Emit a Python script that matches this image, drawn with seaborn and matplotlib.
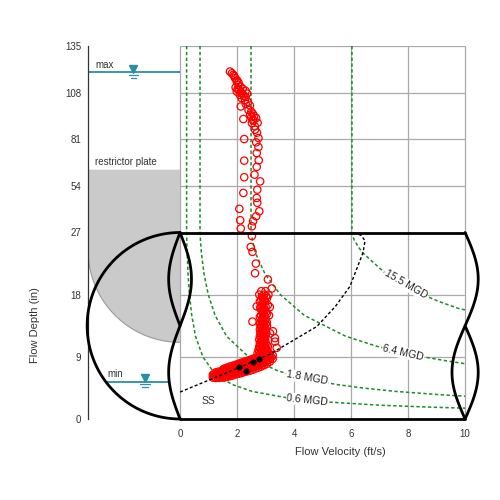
"""Flow depth vs. velocity scattergraph drawn over a pipe schematic."""
import numpy as np
import matplotlib
matplotlib.use("Agg")
import matplotlib.pyplot as plt
import pandas as pd
import seaborn as sns

# ---------------- data ----------------
pipe_diameter = 27.0          # in, also the break of the depth axis
depth_max = 135.0
plate_top = 63.4              # restrictor plate top (in)
plate_center = 24.5
plate_radius = 13.4
max_level = 120.0
min_level = 5.4

x_ticks = [0, 2, 4, 6, 8, 10]
y_major = [0, 9, 18, 27, 54, 81, 108, 135]
y_minor = [36, 45, 63, 72, 90, 99, 117, 126]

# iso-flow lines (velocity ft/s at each depth in)
flow_labels = ["0.6 MGD", "1.8 MGD", "6.4 MGD", "15.5 MGD"]
q06_depth = [135, 27, 25, 24, 21, 18, 15, 12, 9, 7, 6, 5, 4, 3, 2.5, 2, 1.7, 1.57]
q06_vel = [0.23, 0.23, 0.24, 0.25, 0.28, 0.33, 0.41, 0.54, 0.80, 1.14, 1.41, 1.83, 2.52, 3.84, 5.02, 6.99, 8.88, 10.0]
q18_depth = [135, 27, 25, 24, 21, 18, 15, 12, 9, 7, 6, 5, 4.5, 4, 3.5, 3.3]
q18_vel = [0.70, 0.70, 0.73, 0.75, 0.84, 0.99, 1.23, 1.63, 2.40, 3.41, 4.23, 5.48, 6.39, 7.55, 9.18, 10.0]
q64_depth = [135, 27, 25, 24, 21, 18, 15, 12, 10.5, 9, 8.5, 8.0]
q64_vel = [2.49, 2.49, 2.58, 2.65, 2.98, 3.52, 4.36, 5.80, 6.92, 8.53, 9.23, 10.0]
q155_depth = [135, 27, 26, 25, 24, 21, 19.5, 18, 17, 16, 15.8]
q155_vel = [6.03, 6.03, 6.10, 6.24, 6.42, 7.23, 7.80, 8.52, 9.09, 9.77, 10.0]
label_vel = [4.47, 4.47, 7.83, 7.92]
label_depth = [2.7, 5.95, 9.6, 19.5]
label_rot = [-6, -10, -13, -30]

# SS curve
ss_vel = [0.0, 1.05, 2.0, 3.16, 4.8, 5.45, 5.96, 6.42, 6.49, 6.35, 6.07]
ss_depth = [3.9, 5.7, 7.3, 9.4, 13.4, 16.3, 19.2, 24.1, 25.8, 26.6, 27.0]

# measured points (velocity, depth)
upper_trail = [
    (1.75, 120.2), (1.82, 119.2), (1.87, 118.3), (1.90, 117.5), (1.93, 116.4),
    (2.00, 115.2), (1.99, 114.4), (2.05, 113.8), (2.05, 112.5), (2.12, 111.5),
    (1.95, 111.0), (2.02, 110.0), (2.20, 110.2), (2.08, 109.5), (2.30, 109.0),
    (1.99, 108.6), (2.15, 108.0), (2.35, 107.5), (2.20, 107.0), (2.10, 106.7),
    (2.25, 106.0), (2.30, 105.5), (2.16, 104.8), (2.28, 103.8), (2.38, 102.5),
    (2.30, 101.5), (2.45, 100.5), (2.13, 100.0), (2.40, 98.0), (2.50, 97.0),
    (2.55, 95.8), (2.46, 95.2), (2.60, 94.5), (2.50, 93.8), (2.67, 93.3),
    (2.22, 92.7), (2.55, 92.2), (2.58, 91.8), (2.72, 90.5), (2.52, 90.4),
    (2.62, 88.5), (2.63, 86.5), (2.70, 84.8), (2.75, 81.7), (2.25, 81.1),
    (2.67, 79.2), (2.75, 76.5), (2.69, 73.0), (2.76, 68.8), (2.25, 68.6),
    (2.69, 65.0), (2.61, 60.5), (2.25, 59.0), (2.81, 56.6), (2.71, 51.8),
    (2.22, 49.9), (2.69, 47.0), (2.71, 44.2), (2.08, 40.7), (2.78, 39.3),
    (2.67, 36.4), (2.11, 34.1), (2.56, 33.5), (2.52, 30.6), (2.13, 29.3),
]
lower_trail = [
    (2.52, 26.5), (2.48, 24.9), (2.54, 24.2), (2.66, 22.5), (2.63, 21.1),
    (3.08, 20.2), (3.22, 18.9), (2.54, 14.1), (2.69, 16.3), (3.26, 12.7),
    (3.33, 11.2), (3.33, 11.7), (3.39, 10.3), (3.16, 12.4), (3.15, 16.2),
]
column = [
    (2.85, 18.5), (3.00, 18.5), (2.78, 18.0), (2.95, 18.0), (3.10, 18.0),
    (2.90, 17.5), (3.05, 17.5), (2.80, 17.0), (2.98, 17.0), (2.88, 16.5),
    (3.08, 16.5), (2.82, 16.0), (2.95, 16.0), (2.90, 15.5), (3.02, 15.5),
    (2.84, 15.0), (2.96, 15.0), (3.12, 15.0), (2.88, 14.5), (3.00, 14.5),
    (2.82, 14.0), (2.92, 14.0), (3.04, 14.0), (2.85, 13.5), (2.95, 13.5),
    (3.05, 13.5), (2.80, 13.0), (2.90, 13.0), (3.00, 13.0), (2.82, 12.5),
    (2.92, 12.5), (3.02, 12.5), (2.80, 12.0), (2.90, 12.0), (3.00, 12.0),
    (2.78, 11.5), (2.88, 11.5), (2.98, 11.5), (2.80, 11.0), (2.90, 11.0),
    (3.00, 11.0), (2.78, 10.5), (2.88, 10.5), (2.98, 10.5), (3.08, 10.5),
    (2.75, 10.0), (2.85, 10.0), (2.95, 10.0), (3.05, 10.0), (2.72, 9.5),
    (2.82, 9.5), (2.92, 9.5), (3.02, 9.5), (3.12, 9.5),
    (2.87, 17.75), (3.02, 17.75), (2.85, 17.25), (2.95, 17.25), (2.92, 16.75),
    (2.82, 16.25), (3.00, 16.25), (2.86, 15.75), (2.97, 15.75), (2.90, 15.25),
    (3.05, 15.25), (2.80, 14.75), (2.94, 14.75), (2.87, 14.25), (2.98, 14.25),
    (2.80, 13.75), (2.90, 13.75), (3.00, 13.75), (2.85, 13.25), (2.95, 13.25),
    (2.87, 12.75), (2.97, 12.75), (2.85, 12.25), (2.95, 12.25), (2.83, 11.75),
    (2.93, 11.75), (2.85, 11.25), (2.95, 11.25), (2.83, 10.75), (2.93, 10.75),
    (3.03, 10.75), (2.80, 10.25), (2.90, 10.25), (3.00, 10.25), (2.78, 9.75),
    (2.88, 9.75), (2.98, 9.75), (3.08, 9.75),
]
band = [
    (1.15, 6.0), (1.15, 6.4), (1.25, 5.95), (1.25, 6.35), (1.25, 6.75),
    (1.35, 5.95), (1.35, 6.4), (1.35, 6.85), (1.45, 6.0), (1.45, 6.45),
    (1.45, 6.9), (1.55, 6.0), (1.55, 6.45), (1.55, 6.9), (1.55, 7.3),
    (1.65, 6.1), (1.65, 6.55), (1.65, 7.0), (1.65, 7.45), (1.75, 6.2),
    (1.75, 6.65), (1.75, 7.1), (1.75, 7.6), (1.85, 6.3), (1.85, 6.75),
    (1.85, 7.2), (1.85, 7.7), (1.95, 6.45), (1.95, 6.9), (1.95, 7.35),
    (1.95, 7.85), (2.05, 6.55), (2.05, 7.0), (2.05, 7.5), (2.05, 8.0),
    (2.15, 6.65), (2.15, 7.1), (2.15, 7.6), (2.15, 8.15), (2.25, 6.8),
    (2.25, 7.25), (2.25, 7.75), (2.25, 8.3), (2.35, 6.9), (2.35, 7.35),
    (2.35, 7.85), (2.35, 8.4), (2.45, 7.0), (2.45, 7.5), (2.45, 8.0),
    (2.45, 8.55), (2.55, 7.15), (2.55, 7.65), (2.55, 8.15), (2.55, 8.7),
    (2.65, 7.3), (2.65, 7.8), (2.65, 8.3), (2.65, 8.85), (2.75, 7.45),
    (2.75, 7.95), (2.75, 8.5), (2.75, 9.05), (2.85, 7.6), (2.85, 8.1),
    (2.85, 8.65), (2.85, 9.2), (2.95, 7.8), (2.95, 8.3), (2.95, 8.85),
    (2.95, 9.35), (3.05, 8.0), (3.05, 8.5), (3.05, 9.05), (3.15, 8.3),
    (3.15, 8.8), (3.15, 9.3), (3.25, 8.7), (3.25, 9.2),
    (1.20, 6.15), (1.20, 6.55), (1.30, 6.15), (1.30, 6.6), (1.40, 6.2),
    (1.40, 6.65), (1.50, 6.2), (1.50, 6.7), (1.50, 7.1), (1.60, 6.3),
    (1.60, 6.75), (1.60, 7.2), (1.70, 6.4), (1.70, 6.85), (1.70, 7.3),
    (1.80, 6.5), (1.80, 6.95), (1.80, 7.45), (1.90, 6.6), (1.90, 7.1),
    (1.90, 7.6), (2.00, 6.75), (2.00, 7.25), (2.00, 7.75), (2.10, 6.85),
    (2.10, 7.35), (2.10, 7.9), (2.20, 7.0), (2.20, 7.5), (2.20, 8.05),
    (2.30, 7.1), (2.30, 7.6), (2.30, 8.15), (2.40, 7.25), (2.40, 7.75),
    (2.40, 8.3), (2.50, 7.4), (2.50, 7.9), (2.50, 8.45), (2.60, 7.55),
    (2.60, 8.05), (2.60, 8.6), (2.70, 7.7), (2.70, 8.2), (2.70, 8.75),
    (2.80, 7.85), (2.80, 8.4), (2.80, 8.95), (2.90, 8.05), (2.90, 8.55),
    (2.90, 9.1), (3.00, 8.25), (3.00, 8.75), (3.00, 9.25), (3.10, 8.55),
    (3.10, 9.05), (3.20, 8.95),
]
avg_vel = [2.08, 2.30, 2.55, 2.78]
avg_depth = [7.6, 6.9, 8.2, 8.7]

# ---------------- style ----------------
sns.set_style("white")
plt.rcParams["font.family"] = ["Liberation Sans", "DejaVu Sans"]
text_col = "#333333"
green = "#1f8a2a"
teal = "#2a8fa3"
grid_col = "#a9a9a9"
dash = (0, (2.2, 1.6))

fig = plt.figure(figsize=(5, 5), dpi=100)
ax = fig.add_axes([0.176, 0.162, 0.7884, 0.746])


def fwd(d):
    d = np.asarray(d, dtype=float)
    return np.where(d <= pipe_diameter, d, pipe_diameter + (d - pipe_diameter) / 4)


def inv(t):
    t = np.asarray(t, dtype=float)
    return np.where(t <= pipe_diameter, t, pipe_diameter + (t - pipe_diameter) * 4)


ax.set_yscale("function", functions=(fwd, inv))
ax.set_xlim(-3.23, 10.6)
ax.set_ylim(0, depth_max)

# grid restricted to the plotting box
ax.vlines(x_ticks, 0, depth_max, color=grid_col, lw=0.9, zorder=0)
ax.hlines(y_major, 0, 10, color=grid_col, lw=0.9, zorder=0)

# restrictor plate
t = np.linspace(-np.pi / 2, -np.pi, 40)
px = np.concatenate([[-3.23, 0, 0], 3.23 * np.cos(t), [-3.23, -3.23]])
py = np.concatenate([[plate_top, plate_top, pipe_diameter],
                     plate_center + plate_radius * np.sin(t), [pipe_diameter, plate_top]])
ax.fill(px, py, color="#cacaca", lw=0, zorder=1)
ax.plot(3.23 * np.cos(t), plate_center + plate_radius * np.sin(t), color="#9a9a9a", lw=0.8, zorder=1)

# pipe outline
blk = dict(color="black", lw=2.0, zorder=7, clip_on=False, solid_capstyle="round")
ax.plot([0, 10], [pipe_diameter, pipe_diameter], **blk)
ax.plot([0, 10], [0, 0], **blk)
half = pipe_diameter / 2
t = np.linspace(np.pi / 2, 1.5 * np.pi, 80)
ax.plot(3.26 * np.cos(t), half + half * np.sin(t), **blk)
dd = np.linspace(0, pipe_diameter, 120)
up = np.linspace(half, pipe_diameter, 60)
lo = np.linspace(0, half, 60)
ax.plot(-0.4 * np.sin(np.pi * dd / half), dd, **blk)
ax.plot(0.4 * np.sin(np.pi * up / half), up, **blk)
ax.plot(10 - 0.46 * np.sin(np.pi * dd / half), dd, **blk)
ax.plot(10 + 0.46 * np.sin(np.pi * lo / half), lo, **blk)

# iso-flow curves
for v, d in [(q06_vel, q06_depth), (q18_vel, q18_depth), (q64_vel, q64_depth), (q155_vel, q155_depth)]:
    ax.plot(v, d, color=green, lw=1.1, ls=dash, zorder=3)
for lab, v, d, r in zip(flow_labels, label_vel, label_depth, label_rot):
    ax.text(v, d, lab, rotation=r, ha="center", va="center", fontsize=7.5, color="#222222",
            rotation_mode="anchor", zorder=5,
            bbox=dict(fc="white", ec="none", pad=0.6))

# measured points
pts = pd.DataFrame(upper_trail + lower_trail + column + band, columns=["vel", "depth"])
sns.scatterplot(data=pts, x="vel", y="depth", ax=ax, s=28, marker="o",
                color="red", facecolor="none", edgecolor="red", linewidth=0.9,
                zorder=4, legend=False)
ax.plot(ss_vel, ss_depth, color="black", lw=1.0, ls=dash, zorder=5)
sns.scatterplot(x=avg_vel, y=avg_depth, ax=ax, s=16, color="black",
                edgecolor="black", zorder=6, legend=False)

# water levels
ax.hlines(max_level, -3.23, 0, color=teal, lw=1.3, zorder=2)
ax.plot([-1.64], [121.9], marker="v", color=teal, ms=5.5, zorder=3)
ax.plot([-1.78, -1.47], [118.3, 118.3], color=teal, lw=0.9)
ax.plot([-1.72, -1.55], [116.4, 116.4], color=teal, lw=0.9)
ax.text(-2.98, 124.1, "max", fontsize=7, color=text_col, va="center")
ax.hlines(min_level, -2.6, -0.43, color=teal, lw=1.3, zorder=2)
ax.plot([-1.23], [6.0], marker="v", color=teal, ms=5.5, zorder=3)
ax.plot([-1.4, -1.05], [5.08, 5.08], color=teal, lw=0.9)
ax.plot([-1.33, -1.12], [4.69, 4.69], color=teal, lw=0.9)
ax.text(-2.56, 6.5, "min", fontsize=7, color=text_col, va="center")
ax.text(-2.98, 67.7, "restrictor plate", fontsize=7, color=text_col, va="center")
ax.text(0.99, 2.6, "SS", fontsize=7.5, color=text_col, ha="center", va="center")

# axes
for s in ["top", "right", "bottom"]:
    ax.spines[s].set_visible(False)
ax.spines["left"].set_color(text_col)
ax.spines["left"].set_linewidth(0.9)
ax.set_xticks(x_ticks)
ax.set_xticklabels([str(x) for x in x_ticks])
ax.set_yticks(y_major)
ax.set_yticklabels([str(y) for y in y_major])
ax.set_yticks(y_minor, minor=True)
ax.tick_params(axis="x", length=0, pad=7, labelsize=7, labelcolor=text_col)
ax.tick_params(axis="y", which="major", direction="in", length=4, width=0.9,
               color=text_col, pad=5, labelsize=7, labelcolor=text_col)
ax.tick_params(axis="y", which="minor", direction="in", length=2.5, width=0.8, color=text_col)
ax.set_xlabel("Flow Velocity (ft/s)", fontsize=8, color=text_col)
ax.set_ylabel("Flow Depth (in)", fontsize=8, color=text_col)
ax.xaxis.set_label_coords(0.64, -0.075)
ax.yaxis.set_label_coords(-0.122, 0.252)

fig.savefig("out.png", dpi=100)
